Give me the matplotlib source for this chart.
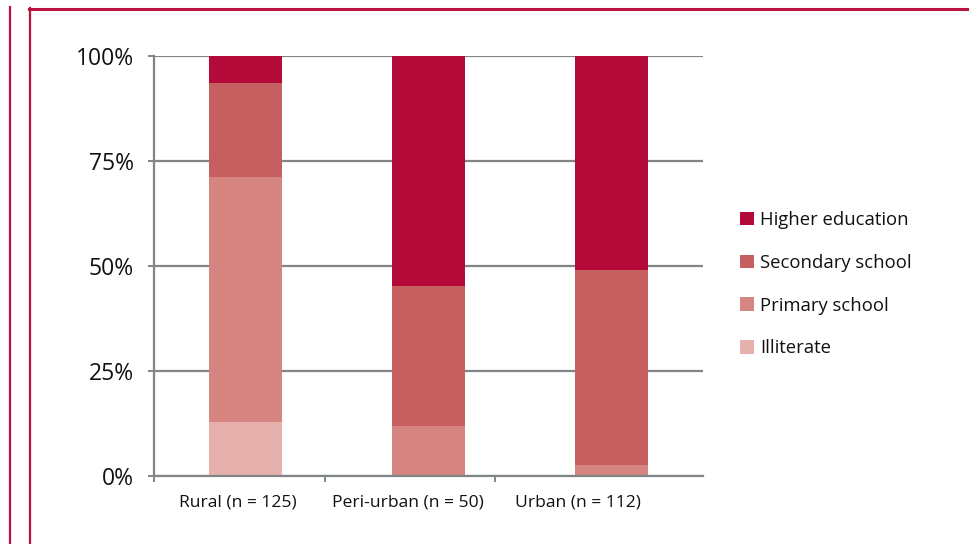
import matplotlib
matplotlib.use("Agg")
import matplotlib.pyplot as plt
from matplotlib.lines import Line2D
from matplotlib.patches import Patch
import numpy as np

categories = ["Rural (n = 125)", "Peri-urban (n = 50)", "Urban (n = 112)"]
series_names = ["Illiterate", "Primary school", "Secondary school", "Higher education"]
illiterate = [12.8, 0.0, 0.0]
primary = [58.4, 12.0, 2.7]
secondary = [22.4, 33.2, 46.3]
higher = [6.4, 54.8, 51.0]
y_ticks = [0, 25, 50, 75, 100]
y_labels = ["0%", "25%", "50%", "75%", "100%"]

colors = ["#E6B0AD", "#D6847F", "#C65F5F", "#B30A3A"]
grid_c = "#808587"
frame_c = "#B8123F"

plt.rcParams['font.family'] = ['Open Sans', 'DejaVu Sans']

W, H = 969, 544
fig = plt.figure(figsize=(W / 100, H / 100), dpi=100)
ax = fig.add_axes([154 / W, 1 - 476 / H, (703 - 154) / W, (476 - 56) / H])

x = np.arange(len(categories))
bottom = np.zeros(len(categories))
handles = []
for name, vals, c in zip(series_names, [illiterate, primary, secondary, higher], colors):
    ax.bar(x, vals, width=0.4, bottom=bottom, color=c, zorder=3, linewidth=0)
    bottom = bottom + np.array(vals)
    handles.append(Patch(facecolor=c, edgecolor='none', label=name))

ax.set_xlim(-0.5, 2.5)
ax.set_ylim(0, 100)
ax.set_yticks(y_ticks)
ax.set_yticklabels(y_labels, fontsize=16.5, color="#111111")
ax.yaxis.grid(True, color=grid_c, linewidth=1.6, zorder=0)
ax.set_axisbelow(True)
ax.tick_params(axis='y', length=4.5, width=1.4, color=grid_c, pad=10)

# category labels / tick marks
step = 170.5 / 183.0
label_pos = -0.5 + step / 2 + np.arange(len(categories)) * step - 0.01
tick_pos = -0.5 + np.arange(len(categories)) * step
ax.set_xticks(label_pos)
ax.set_xticklabels(categories, fontsize=12.6, color="#111111")
ax.tick_params(axis='x', which='major', length=0, pad=13)
ax.set_xticks(tick_pos, minor=True)
ax.tick_params(axis='x', which='minor', length=4, width=1.4, color=grid_c)

for s in ['top', 'right']:
    ax.spines[s].set_visible(False)
for s in ['left', 'bottom']:
    ax.spines[s].set_color(grid_c)
    ax.spines[s].set_linewidth(1.6)
ax.spines['bottom'].set_zorder(4)

leg = ax.legend(handles=handles[::-1], loc='center left',
                bbox_to_anchor=(1.0674, 0.4565), frameon=False, fontsize=13.3,
                handlelength=0.75, handleheight=0.75, handletextpad=0.32,
                labelspacing=1.34, borderaxespad=0, borderpad=0)
for t in leg.get_texts():
    t.set_color("#111111")

# decorative frame
fig.add_artist(Line2D([29 / W, 1.0], [1 - 8.5 / H, 1 - 8.5 / H], color=frame_c, lw=2.2,
                      transform=fig.transFigure))
fig.add_artist(Line2D([29.5 / W, 29.5 / W], [0, 1 - 8 / H], color=frame_c, lw=1.6,
                      transform=fig.transFigure))
fig.add_artist(Line2D([9.5 / W, 9.5 / W], [0, 1 - 7 / H], color=frame_c, lw=1.6,
                      transform=fig.transFigure))

fig.savefig("out.png", dpi=100)
